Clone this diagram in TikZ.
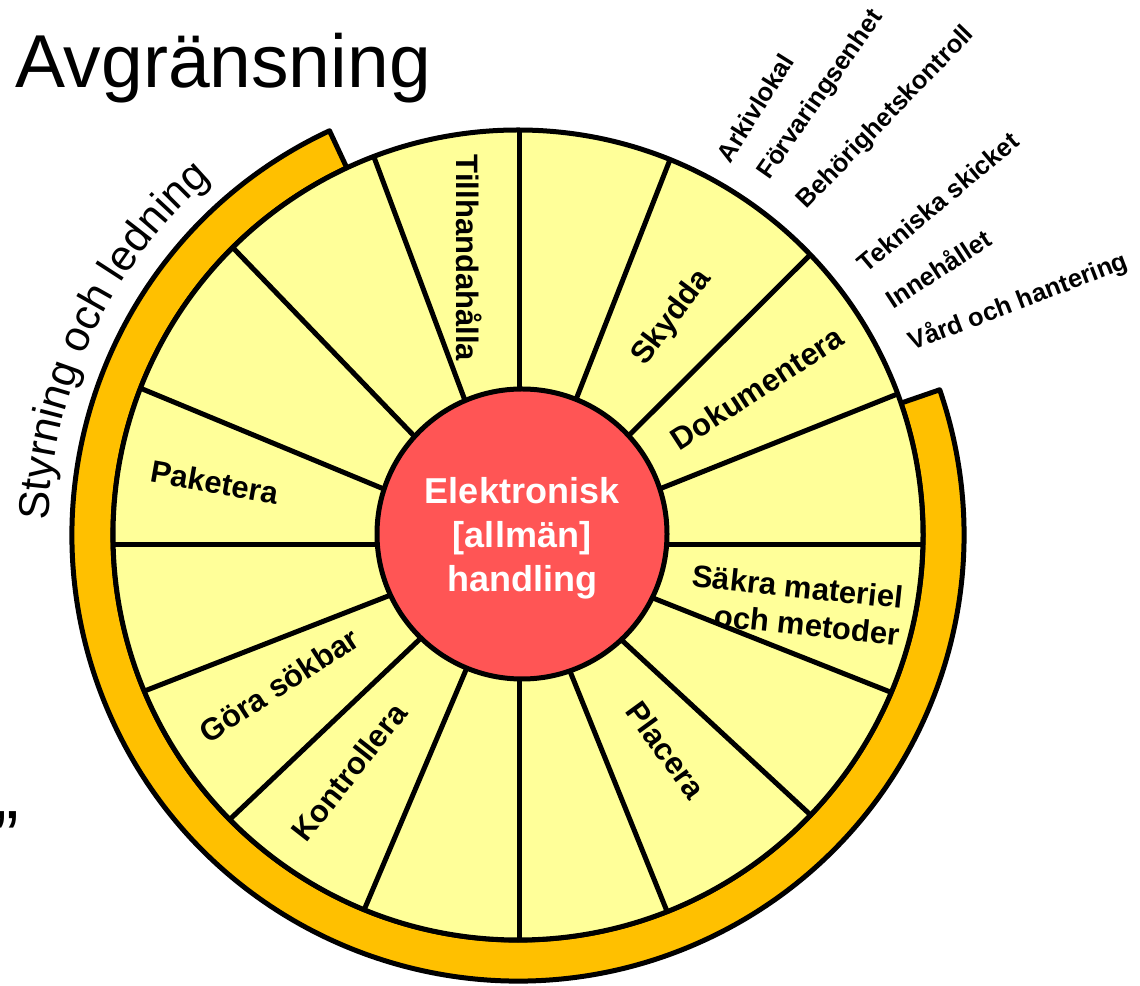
\documentclass[tikz,border=0pt]{standalone}
\usepackage{fontspec}
\setmainfont{Liberation Sans}
\usetikzlibrary{decorations.text}
\definecolor{wheelyellow}{HTML}{FFFF99}
\definecolor{ringorange}{HTML}{FFC000}
\definecolor{hubred}{HTML}{FF5555}
\newcommand{\fsz}[2]{\fontsize{#1}{#2}\selectfont}
\begin{document}
\begin{tikzpicture}[x=1pt,y=1pt,line join=round,
  seglabel/.style={font=\fsz{31}{37}\bfseries, inner sep=0pt, align=center},
  outlabel/.style={font=\fsz{25.5}{30}\bfseries, inner sep=0pt},
  thick line/.style={line width=5pt}]
\useasboundingbox (0,0) rectangle (1140,985);
\coordinate (C) at (518,450);
\coordinate (H) at (519,440);
% orange ring
\draw[thick line, fill=ringorange] ([shift={(115:446)}]C) arc[start angle=115,end angle=379,radius=446]
  -- ([shift={(379:405)}]C) arc[start angle=379,end angle=115,radius=405] -- cycle;
% wheel
\fill[wheelyellow] (C) circle[radius=405];
\begin{scope}
\clip (C) circle[radius=405];
\foreach \a in {0,21.75,44.9,68.6,90,110.5,133.9,157.5,180,201.3,223.5,247,270,292,317.2,338.4}
  \draw[thick line] (H) -- ([shift={(\a:470)}]H);
\end{scope}
\draw[thick line] (C) circle[radius=405];
% hub
\node[circle, draw, thick line, fill=hubred, minimum size=290pt, inner sep=0pt] (hub) at (522,451) {};
\node[font=\fsz{36}{44}\bfseries, text=white, align=center, inner sep=0pt] (hubtext) at (522,446.5)
  {Elektronisk\\{[allmän]}\\handling};
% segment labels
\node[seglabel, rotate=-90] (l1) at (469,727) {Tillhandahålla};
\node[seglabel, rotate=53] (l2) at (672,667) {Skydda};
\node[seglabel, rotate=33] (l3) at (757,597) {Dokumentera};
\node[seglabel, rotate=-6, align=right] (l4) at (796,380) {Säkra materiel\\och metoder};
\node[seglabel, rotate=-54] (l5) at (666,235) {Placera};
\node[seglabel, rotate=52] (l6) at (349,213) {Kontrollera};
\node[seglabel, rotate=33] (l7) at (279,300) {Göra sökbar};
\node[seglabel, rotate=-10] (l8) at (215,503) {Paketera};
% outer labels
\node[outlabel, rotate=58] (o1) at (755,877) {Arkivlokal};
\node[outlabel, rotate=55] (o2) at (821,890) {Förvaringsenhet};
\node[outlabel, rotate=46] (o3) at (886,867) {Behörighetskontroll};
\node[outlabel, rotate=40] (o4) at (938,783) {Tekniska skicket};
\node[outlabel, rotate=33] (o5) at (938,717) {Innehållet};
\node[outlabel, rotate=21] (o6) at (1018,683) {Vård och hantering};
% title
\node[anchor=base west, inner sep=0pt, font=\fsz{75}{90}] (title) at (15,897) {Avgränsning};
\node[anchor=base west, inner sep=0pt, font=\fsz{74}{80}] (quote) at (-6,122) {”};
% curved label
\path[decorate, decoration={text along path, text align=center,
  text={|\fsz{43}{52}|Styrning och ledning}}]
  ([shift={(184:470)}]C) arc[start angle=184,end angle=125,radius=470];
\end{tikzpicture}
\end{document}
